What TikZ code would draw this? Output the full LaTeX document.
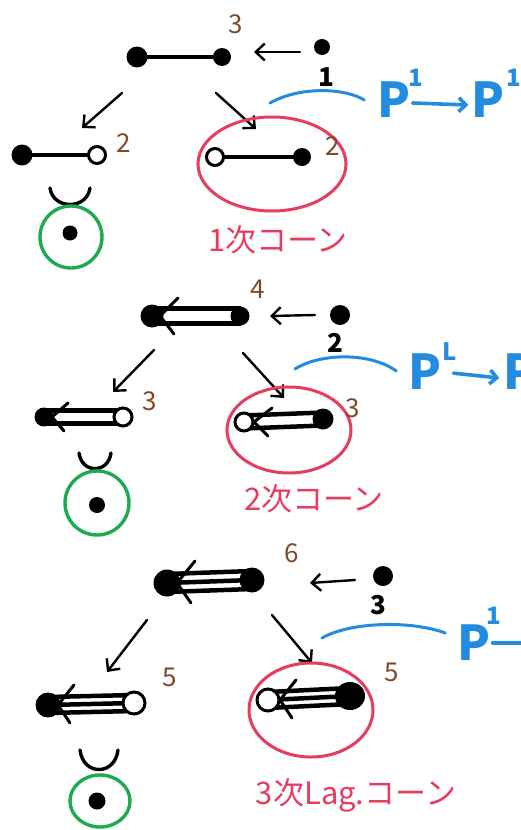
\documentclass[tikz,border=0pt]{standalone}
\usepackage{fontspec}
\setmainfont{Noto Sans CJK JP}
\usetikzlibrary{arrows.meta,calc,shapes.geometric}
\pgfdeclarelayer{bg}\pgfsetlayers{bg,main}
\definecolor{pblue}{RGB}{35,140,225}
\definecolor{pred}{RGB}{230,60,95}
\definecolor{pgreen}{RGB}{30,170,80}
\definecolor{pbrown}{RGB}{125,75,40}
\begin{document}
\begin{tikzpicture}[x=1pt,y=-1pt,
 fdot/.style={circle,fill=black,inner sep=0pt,minimum size=#1},
 fdot/.default=18pt,
 fblob/.style={ellipse,fill=black,inner sep=0pt,minimum width=30pt,minimum height=28pt},
 odot/.style={circle,draw=black,fill=white,line width=3pt,inner sep=0pt,minimum size=#1},
 odot/.default=16pt,
 eline/.style={line width=4.5pt,line cap=round},
 chev/.style={line width=3pt,line cap=round,line join=round},
 arr/.style={line width=2.4pt,line cap=round,-{Straight Barb[length=9pt,width=17pt]}},
 num/.style={text=pbrown,font=\fontsize{26}{26}\selectfont,inner sep=0pt},
 bnum/.style={text=black,font=\fontsize{26}{26}\selectfont\bfseries,inner sep=0pt},
 bluec/.style={draw=pblue,line width=3pt,line cap=round},
 barr/.style={draw=pblue,line width=3.6pt,line cap=round,-{Straight Barb[length=7pt,width=14pt]}},
 ptext/.style={text=pblue,font=\fontsize{48}{48}\selectfont\bfseries,inner sep=0pt},
 psup/.style={text=pblue,font=\fontsize{24}{24}\selectfont\bfseries,inner sep=0pt},
 redell/.style={draw=pred,line width=3pt,ellipse,inner sep=0pt},
 rtext/.style={text=pred,font=\fontsize{31}{31}\selectfont,inner sep=0pt},
 greenc/.style={draw=pgreen,line width=3.4pt,inner sep=0pt},
 cup/.style={line width=3.4pt,line cap=round}]
\path[use as bounding box,clip] (0,0) rectangle (521,830);

% ================= Section 1 =================
\node[fdot=21pt] (a1l) at (137,57) {};
\node[fdot=18pt] (a1r) at (222,57) {};
\begin{pgfonlayer}{bg}\draw[eline] (a1l) -- (a1r);\end{pgfonlayer}
\node[num] (n1top) at (236,24) {3};
\node[fdot=16pt] (s1) at (322,47) {};
\node[bnum] (n1s) at (326,77) {1};
\draw[arr] ($(s1)+(-22,5)$) -- ($(a1r)+(32,-5)$);
\coordinate (d1ls) at (122,93); \coordinate (d1le) at (82,128);
\coordinate (d1rs) at (216,93); \coordinate (d1re) at (256,129);
\draw[arr] (d1ls) -- (d1le);
\draw[arr] (d1rs) -- (d1re);
\node[fdot=21pt] (b1la) at (22,155) {};
\node[odot=17pt] (b1lb) at (97,155) {};
\begin{pgfonlayer}{bg}\draw[eline] (b1la) -- (b1lb);\end{pgfonlayer}
\node[num] (n1l) at (124,143) {2};
\node[redell,minimum width=148pt,minimum height=94pt] (e1) at (272,164) {};
\node[odot=17pt] (b1ra) at (215,157) {};
\node[fdot=18pt] (b1rb) at (302,157) {};
\begin{pgfonlayer}{bg}\draw[eline] (b1ra) -- (b1rb);\end{pgfonlayer}
\node[num] (n1r) at (333,146) {2};
\draw[cup] (50,188) .. controls (53,210) and (87,210) .. (90,188);
\node[greenc,circle,minimum size=62pt] (g1) at (71,237) {};
\node[fdot=15pt] (g1d) at (70,233) {};
\node[rtext] (r1) at (278,240) {1次コーン};
\coordinate (bc1) at (270,103);
\node[ptext] (p1a) at (394,100) {P};
\node[psup] (p1as) at (416,78) {1};
\node[ptext] (p1b) at (488,100) {P};
\node[psup] (p1bs) at (514,78) {1};
\draw[bluec] (bc1) .. controls (300,86) and (345,88) .. ($(p1a.west)+(-13,0)$);
\draw[barr] ($(p1a.east)+(2,3)$) -- ($(p1b.west)+(-3,5)$);

% ================= Section 2 =================
\node[fdot=23pt] (a2l) at (152,316) {};
\node[fdot=19pt] (a2r) at (240,316) {};
\begin{pgfonlayer}{bg}
\draw[eline] ($(a2l)+(0,-7.5)$) -- ($(a2r)+(0,-7.5)$);
\draw[eline] ($(a2l)+(0,7.5)$) -- ($(a2r)+(0,7.5)$);
\end{pgfonlayer}
\draw[chev] ($(a2l)+(26,-18)$) -- ($(a2l)+(8,0)$) -- ($(a2l)+(22,18)$);
\node[num] (n2top) at (258,289) {4};
\node[fdot=20pt] (s2) at (340,315) {};
\node[bnum] (n2s) at (335,343) {2};
\draw[arr] ($(s2)+(-25,0)$) -- ($(a2r)+(30,0)$);
\coordinate (d2ls) at (154,350); \coordinate (d2le) at (113,392);
\coordinate (d2rs) at (243,353); \coordinate (d2re) at (284,398);
\draw[arr] (d2ls) -- (d2le);
\draw[arr] (d2rs) -- (d2re);
\node[fdot=19pt] (b2la) at (44,417) {};
\node[odot=18pt] (b2lb) at (123,417) {};
\begin{pgfonlayer}{bg}
\draw[eline] ($(b2la)+(0,-6.5)$) -- ($(b2lb)+(0,-6.5)$);
\draw[eline] ($(b2la)+(0,6.5)$) -- ($(b2lb)+(0,6.5)$);
\end{pgfonlayer}
\draw[chev] ($(b2la)+(24,-14)$) -- ($(b2la)+(8,0)$) -- ($(b2la)+(20,14)$);
\node[num] (n2l) at (150,401) {3};
\node[redell,minimum width=124pt,minimum height=86pt] (e2) at (289,430) {};
\node[odot=18pt] (b2ra) at (244,422) {};
\node[fdot=21pt] (b2rb) at (323,419) {};
\begin{pgfonlayer}{bg}
\draw[eline] ($(b2ra)+(0,-6.5)$) -- ($(b2rb)+(0,-6.5)$);
\draw[eline] ($(b2ra)+(0,6.5)$) -- ($(b2rb)+(0,6.5)$);
\end{pgfonlayer}
\draw[chev] ($(b2ra)+(28,-14)$) -- ($(b2ra)+(10,0)$) -- ($(b2ra)+(24,14)$);
\node[num] (n2r) at (353,408) {3};
\draw[cup] (79,453) .. controls (82,474) and (108,474) .. (111,453);
\node[greenc,circle,minimum size=64pt] (g2) at (97,503) {};
\node[fdot=16pt] (g2d) at (97,505) {};
\node[rtext] (r2) at (314,499) {2次コーン};
\coordinate (bc2) at (295,369);
\node[ptext] (p2a) at (425,372) {P};
\node[psup] (p2as) at (450,352) {L};
\node[ptext] (p2b) at (520,372) {P};
\draw[bluec] (bc2) .. controls (320,353) and (370,352) .. ($(p2a.west)+(-12,-1)$);
\draw[barr] ($(p2as.south east)+(-4,12)$) -- ($(p2b.west)+(-4,6)$);

% ================= Section 3 =================
\node[fdot=27pt] (a3l) at (167,583) {};
\node[fdot=25pt] (a3r) at (252,580) {};
\begin{pgfonlayer}{bg}
\draw[eline] ($(a3l)+(0,-9)$) -- ($(a3r)+(0,-9)$);
\draw[eline] (a3l) -- (a3r);
\draw[eline] ($(a3l)+(0,9)$) -- ($(a3r)+(0,9)$);
\end{pgfonlayer}
\draw[chev] ($(a3l)+(28,-22)$) -- ($(a3l)+(10,0)$) -- ($(a3l)+(24,20)$);
\node[num] (n3top) at (292,553) {6};
\node[fdot=20pt] (s3) at (383,576) {};
\node[bnum] (n3s) at (378,605) {3};
\draw[arr] ($(s3)+(-28,4)$) -- ($(a3r)+(58,3)$);
\coordinate (d3ls) at (147,620); \coordinate (d3le) at (107,672);
\coordinate (d3rs) at (272,615); \coordinate (d3re) at (312,663);
\draw[arr] (d3ls) -- (d3le);
\draw[arr] (d3rs) -- (d3re);
\node[fdot=25pt] (b3la) at (48,705) {};
\node[odot=22pt] (b3lb) at (134,703) {};
\begin{pgfonlayer}{bg}
\draw[eline] ($(b3la)+(0,-8)$) -- ($(b3lb)+(0,-8)$);
\draw[eline] (b3la) -- (b3lb);
\draw[eline] ($(b3la)+(0,8)$) -- ($(b3lb)+(0,8)$);
\end{pgfonlayer}
\draw[chev] ($(b3la)+(26,-20)$) -- ($(b3la)+(10,0)$) -- ($(b3la)+(22,18)$);
\node[num] (n3l) at (170,677) {5};
\node[redell,minimum width=124pt,minimum height=94pt] (e3) at (311,710) {};
\node[odot=22pt] (b3ra) at (268,700) {};
\node[fblob] (b3rb) at (350,696) {};
\begin{pgfonlayer}{bg}
\draw[eline] ($(b3ra)+(0,-8)$) -- ($(b3rb)+(0,-8)$);
\draw[eline] (b3ra) -- (b3rb);
\draw[eline] ($(b3ra)+(0,8)$) -- ($(b3rb)+(0,8)$);
\end{pgfonlayer}
\draw[chev] ($(b3ra)+(28,-20)$) -- ($(b3ra)+(12,0)$) -- ($(b3ra)+(24,18)$);
\node[num] (n3r) at (392,672) {5};
\draw[cup] (80,750) .. controls (83,776) and (115,776) .. (118,750);
\node[greenc,ellipse,minimum width=60pt,minimum height=52pt] (g3) at (100,801) {};
\node[fdot=17pt] (g3d) at (97,801) {};
\node[rtext] (r3) at (356,795) {3次Lag.コーン};
\coordinate (bc3) at (322,638);
\node[ptext] (p3a) at (474,643) {P};
\node[psup] (p3as) at (494,616) {1};
\coordinate (p3e) at (523,643);
\draw[bluec] (bc3) .. controls (350,622) and (410,620) .. ($(p3a.west)+(-12,-10)$);
\draw[bluec,line width=3.6pt] ($(p3a.east)+(2,0)$) -- (p3e);
\end{tikzpicture}
\end{document}
